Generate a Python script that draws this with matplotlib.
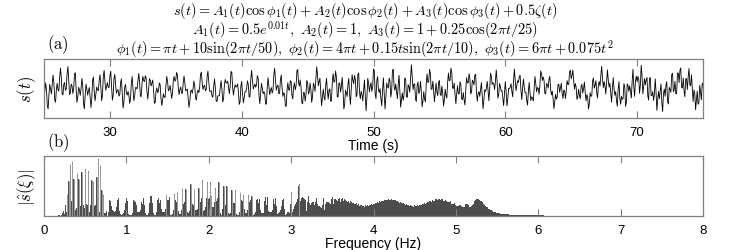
import matplotlib
matplotlib.use("Agg")
import matplotlib.pyplot as plt
import numpy as np

# signal definition as printed in the chart heading
t_start, t_end, fs = 0.0, 100.0, 16.0
A1_coef = [0.5, 0.01]          # A1 = 0.5 exp(0.01 t)
A2_val = 1.0
A3_coef = [1.0, 0.25, 25.0]    # A3 = 1 + 0.25 cos(2 pi t / 25)
phi1_coef = [1.0, 10.0, 50.0]  # phi1 = pi t + 10 sin(2 pi t / 50)
phi2_coef = [4.0, 0.15, 10.0]  # phi2 = 4 pi t + 0.15 t sin(2 pi t / 10)
phi3_coef = [6.0, 0.075]       # phi3 = 6 pi t + 0.075 t^2

time_lim = [25, 75]
time_ticks = [30, 40, 50, 60, 70]
freq_lim = [0, 8]
freq_ticks = [0, 1, 2, 3, 4, 5, 6, 7, 8]

plt.rcParams['mathtext.fontset'] = 'cm'
plt.rcParams['font.family'] = ['Liberation Sans', 'DejaVu Sans']

t = np.arange(t_start, t_end, 1.0 / fs)
A1 = A1_coef[0] * np.exp(A1_coef[1] * t)
A2 = A2_val * np.ones_like(t)
A3 = A3_coef[0] + A3_coef[1] * np.cos(2 * np.pi * t / A3_coef[2])
phi1 = phi1_coef[0] * np.pi * t + phi1_coef[1] * np.sin(2 * np.pi * t / phi1_coef[2])
phi2 = phi2_coef[0] * np.pi * t + phi2_coef[1] * t * np.sin(2 * np.pi * t / phi2_coef[2])
phi3 = phi3_coef[0] * np.pi * t + phi3_coef[1] * t ** 2
s = A1 * np.cos(phi1) + A2 * np.cos(phi2) + A3 * np.cos(phi3)

spec = np.abs(np.fft.rfft(s))
freq = np.fft.rfftfreq(len(s), 1.0 / fs)

W, H = 747, 251
fig = plt.figure(figsize=(W / 100, H / 100), dpi=100)

head = [
    r'$s(t)=A_1(t)\cos\phi_1(t)+A_2(t)\cos\phi_2(t)+A_3(t)\cos\phi_3(t)+0.5\zeta(t)$',
    r'$A_1(t)=0.5e^{0.01t},\ A_2(t)=1,\ A_3(t)=1+0.25\cos(2\pi t/25)$',
    r'$\phi_1(t)=\pi t+10\sin(2\pi t/50),\ \phi_2(t)=4\pi t+0.15t\sin(2\pi t/10),\ \phi_3(t)=6\pi t+0.075t^2$',
]
# size the heading so the first line is about 385 px wide
renderer = fig.canvas.get_renderer()
probe = fig.text(0, 0, head[0], fontsize=9)
hfs = 9 * 385 / probe.get_window_extent(renderer).width
probe.remove()
fig.text(365 / W, 1 - 1 / H, '\n'.join(head), ha='center', va='top',
         multialignment='center', fontsize=hfs, linespacing=0.86)

grey = '#808080'

ax1 = fig.add_axes([44 / W, 1 - 119 / H, 659 / W, 59 / H])
ax1.plot(t, s, color='black', lw=0.6)
ax1.set_xlim(time_lim)
m = np.abs(s).max()
ax1.set_ylim(-m * 1.08, m * 1.08)
ax1.set_xticks(time_ticks)
ax1.set_yticks([])
ax1.set_xlabel('Time (s)', fontsize=10, labelpad=-0.5)
ax1.set_ylabel(r'$s(t)$', fontsize=12, labelpad=4)
fig.text(47 / W, 1 - 45 / H, r'$\mathrm{(a)}$', fontsize=12, ha='left', va='center')

ax2 = fig.add_axes([44 / W, 1 - 217 / H, 659 / W, 60 / H])
ax2.bar(freq, spec, width=freq[1] - freq[0], color='#4d4d4d', edgecolor='none')
ax2.vlines(freq[spec > 0.35 * spec.max()], 0, spec[spec > 0.35 * spec.max()],
           color='#9a9a9a', lw=0.7)
ax2.set_xlim(freq_lim)
ax2.set_ylim(0, spec.max() * 1.06)
ax2.set_xticks(freq_ticks)
ax2.set_yticks([])
ax2.set_xlabel('Frequency (Hz)', fontsize=10, labelpad=-0.5)
ax2.set_ylabel(r'$|\hat{s}(\xi)|$', fontsize=12, labelpad=4)
fig.text(47 / W, 1 - 143 / H, r'$\mathrm{(b)}$', fontsize=12, ha='left', va='center')

for ax in (ax1, ax2):
    for sp in ax.spines.values():
        sp.set_color(grey)
        sp.set_linewidth(0.9)
    ax.tick_params(axis='x', direction='in', top=True, length=5, color=grey,
                   labelsize=9.5, pad=6)

fig.savefig('out.png', dpi=100)
